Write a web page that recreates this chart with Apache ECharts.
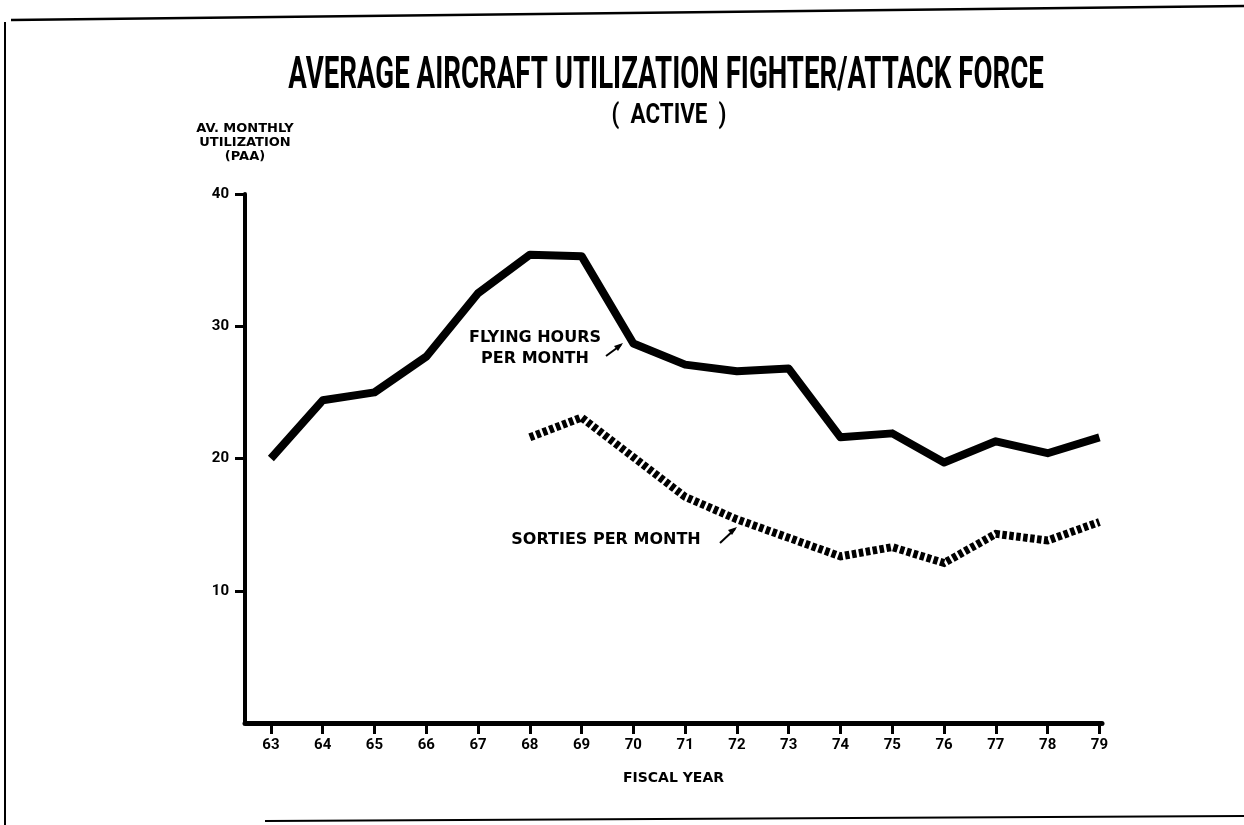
<!DOCTYPE html>
<html>
<head>
<meta charset="utf-8">
<script src="https://cdn.jsdelivr.net/npm/echarts@6/dist/echarts.min.js"></script>
<style>html,body{margin:0;padding:0;background:#fff}#c{width:1244px;height:825px}</style>
</head>
<body>
<div id="c"></div>
<script>
var years = [63,64,65,66,67,68,69,70,71,72,73,74,75,76,77,78,79];
var flyingHours = [20.0,24.4,25.0,27.7,32.5,35.4,35.3,28.7,27.1,26.6,26.8,21.6,21.9,19.7,21.3,20.4,21.6];
var sortieYears = [68,69,70,71,72,73,74,75,76,77,78,79];
var sorties = [21.6,23.1,20.1,17.1,15.4,14.0,12.6,13.3,12.1,14.3,13.8,15.2];
var yTicks = [10,20,30,40];

var fhData = years.map(function(y,i){return [y, flyingHours[i]];});
var soData = sortieYears.map(function(y,i){return [y, sorties[i]];});

var chart = echarts.init(document.getElementById('c'), null, {renderer:'canvas'});
var cond = 'Roboto';
var wide = 'DejaVu Sans';
chart.setOption({
  backgroundColor:'#ffffff',
  animation:false,
  grid:{left:245, right:142, top:194, bottom:102, containLabel:false},
  xAxis:{
    type:'value', min:62.5, max:79.05,
    name:'FISCAL YEAR', nameLocation:'middle', nameGap:48,
    nameTextStyle:{fontFamily:wide, fontWeight:'bold', fontSize:14, color:'#000'},
    axisLine:{show:true, lineStyle:{color:'#000', width:5}},
    axisTick:{show:true, length:11, lineStyle:{color:'#000', width:3}, customValues:years},
    axisLabel:{show:true, margin:15, fontFamily:cond, fontWeight:'bold', fontSize:15, color:'#000', customValues:years},
    splitLine:{show:false}
  },
  yAxis:{
    type:'value', min:0, max:40, interval:10,
    name:'AV. MONTHLY\nUTILIZATION\n(PAA)', nameLocation:'end', nameGap:30,
    nameTextStyle:{fontFamily:wide, fontWeight:'bold', fontSize:13, lineHeight:14, color:'#000', align:'center'},
    axisLine:{show:true, lineStyle:{color:'#000', width:4}},
    axisTick:{show:true, length:10, lineStyle:{color:'#000', width:3}, customValues:yTicks},
    axisLabel:{show:true, margin:16, fontFamily:cond, fontWeight:'bold', fontSize:15, color:'#000', customValues:yTicks},
    splitLine:{show:false}
  },
  series:[{
    name:'FLYING HOURS PER MONTH', type:'line', data:fhData, showSymbol:false,
    lineStyle:{color:'#000', width:8, join:'round', cap:'butt'}
  },{
    name:'SORTIES PER MONTH', type:'line', data:soData, showSymbol:false,
    lineStyle:{color:'#000', width:8, type:[4.5,2.5], cap:'butt', join:'miter'}
  }],
  graphic:[
    {type:'text', x:666, y:77, scaleX:0.628, style:{text:'AVERAGE AIRCRAFT UTILIZATION FIGHTER/ATTACK FORCE', fill:'#000', font:'bold 44px Roboto', align:'center', verticalAlign:'middle'}},
    {type:'text', x:669, y:116, scaleX:0.8, style:{text:'(  ACTIVE  )', fill:'#000', font:'bold 28px Roboto', align:'center', verticalAlign:'middle'}},
    {type:'line', shape:{x1:11,y1:20,x2:1244,y2:6}, style:{stroke:'#000', lineWidth:2.5}},
    {type:'line', shape:{x1:5,y1:22,x2:5,y2:825}, style:{stroke:'#000', lineWidth:2}},
    {type:'line', shape:{x1:265,y1:821,x2:1244,y2:816}, style:{stroke:'#000', lineWidth:2}},
    {type:'text', x:535, y:348, style:{text:'FLYING HOURS\nPER MONTH', fill:'#000', font:'bold 16px "DejaVu Sans"', align:'center', verticalAlign:'middle', lineHeight:21}},
    {type:'line', shape:{x1:606,y1:356,x2:621,y2:345}, style:{stroke:'#000', lineWidth:2}},
    {type:'polygon', shape:{points:[[623,343],[614,346],[618,351]]}, style:{fill:'#000'}},
    {type:'text', x:606, y:540, style:{text:'SORTIES PER MONTH', fill:'#000', font:'bold 16px "DejaVu Sans"', align:'center', verticalAlign:'middle'}},
    {type:'line', shape:{x1:720,y1:543,x2:735,y2:529}, style:{stroke:'#000', lineWidth:2}},
    {type:'polygon', shape:{points:[[737,527],[728,530],[732,535]]}, style:{fill:'#000'}}
  ]
});
</script>
</body>
</html>
